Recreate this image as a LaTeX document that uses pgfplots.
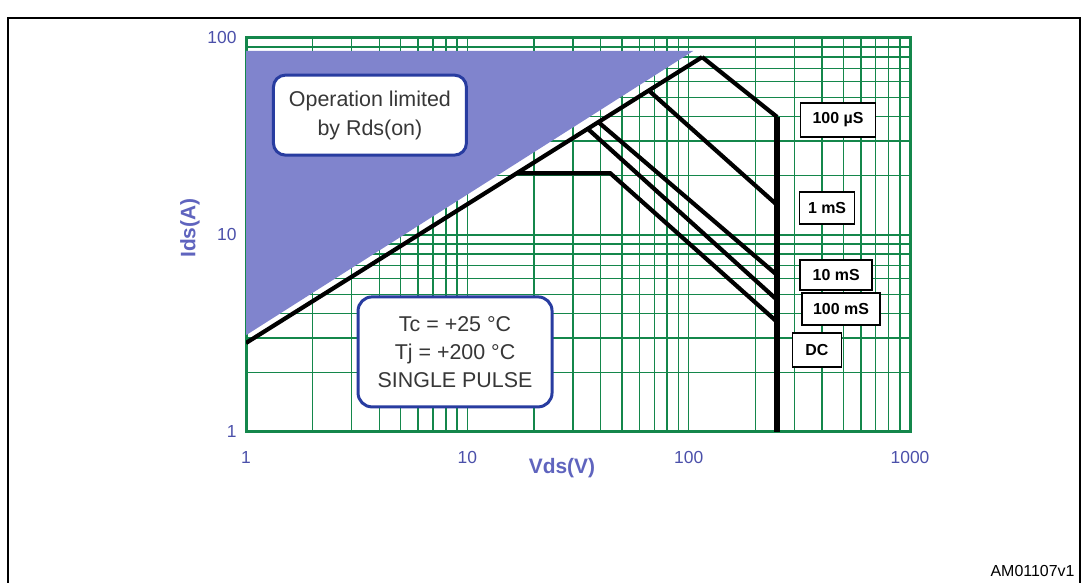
\documentclass[border=0pt]{standalone}
\usepackage{pgfplots}
\pgfplotsset{compat=1.18}
\usepackage{fontspec}
\setmainfont{Liberation Sans}
\definecolor{gridgreen}{RGB}{20,135,75}
\definecolor{tickblue}{RGB}{75,80,170}
\definecolor{labblue}{RGB}{95,100,190}
\definecolor{boxblue}{RGB}{40,60,160}
\definecolor{shade}{RGB}{128,132,205}
\definecolor{textgray}{RGB}{55,55,55}
\begin{document}
\begin{tikzpicture}[x=1bp,y=1bp]
\draw[line width=2.5bp] (8,-5) -- (8,565) -- (1080,565) -- (1080,-5);
\begin{axis}[
  at={(246bp,151bp)}, anchor=south west,
  scale only axis, width=664bp, height=394bp,
  xmode=log, ymode=log, xmin=1, xmax=1000, ymin=1, ymax=100,
  xtick={1,10,100,1000}, xticklabels={1,10,100,1000},
  ytick={1,10,100}, yticklabels={1,10,100},
  grid=both,
  major grid style={draw=gridgreen, line width=1.5bp},
  minor grid style={draw=gridgreen, line width=1.5bp},
  axis line style={draw=gridgreen, line width=3bp},
  major tick length=0pt, minor tick length=0pt,
  ticklabel style={text=tickblue, font=\fontsize{17.5}{20}\selectfont},
  xticklabel style={yshift=-16bp},
  yticklabel style={xshift=-6bp},
]
\addplot[fill=shade, draw=none] coordinates {(1,3.1) (1,86) (105,86) (1,3.1)};
\addplot[black, line width=4.2bp] coordinates {(1,2.83) (115,80)};
\addplot[black, line width=4.2bp] coordinates {(115,80) (251,39.7)};
\addplot[black, line width=5.5bp] coordinates {(251,39.7) (251,1)};
\addplot[black, line width=4.2bp] coordinates {(65.6,54.5) (251,14.2)};
\addplot[black, line width=4.2bp] coordinates {(39,37.5) (251,6.26)};
\addplot[black, line width=4.2bp] coordinates {(35.1,34.5) (251,4.68)};
\addplot[black, line width=4.2bp] coordinates {(16.9,20.6) (44.2,20.6) (251,3.62)};
\node[draw=boxblue, line width=3bp, rounded corners=12bp, fill=white,
      minimum width=193bp, minimum height=80bp, align=center, text=textgray,
      font=\fontsize{21.5}{29}\selectfont] at (axis cs:3.63,40.6) {Operation limited\\by Rds(on)};
\node[draw=boxblue, line width=3bp, rounded corners=14bp, fill=white,
      minimum width=194bp, minimum height=110bp, align=center, text=textgray,
      font=\fontsize{21.5}{28}\selectfont] at (axis cs:8.8,2.55) {Tc = +25 °C\\Tj = +200 °C\\SINGLE PULSE};
\tikzset{lab/.style={draw=black, line width=1.8bp, fill=white, inner sep=2bp,
      font=\bfseries\fontsize{16}{18}\selectfont}}
\node[lab, minimum width=75bp, minimum height=34bp] at (axis cs:473,38.4) {100 µS};
\node[lab, minimum width=55bp, minimum height=32bp] at (axis cs:422,13.7) {1 mS};
\node[lab, minimum width=72bp, minimum height=30bp] at (axis cs:464,6.27) {10 mS};
\node[lab, minimum width=78bp, minimum height=32bp] at (axis cs:488,4.21) {100 mS};
\node[lab, minimum width=49bp, minimum height=34bp] at (axis cs:380,2.61) {DC};
\end{axis}
\node[text=labblue, font=\bfseries\fontsize{21}{24}\selectfont] at (562,115) {Vds(V)};
\node[text=labblue, font=\bfseries\fontsize{21}{24}\selectfont, rotate=90] at (190,355) {Ids(A)};
\node[anchor=base east, font=\fontsize{16}{18}\selectfont] at (1078,6) {AM01107v1};
\pgfresetboundingbox
\path[use as bounding box] (0,0) rectangle (1083,583);
\end{tikzpicture}
\end{document}
